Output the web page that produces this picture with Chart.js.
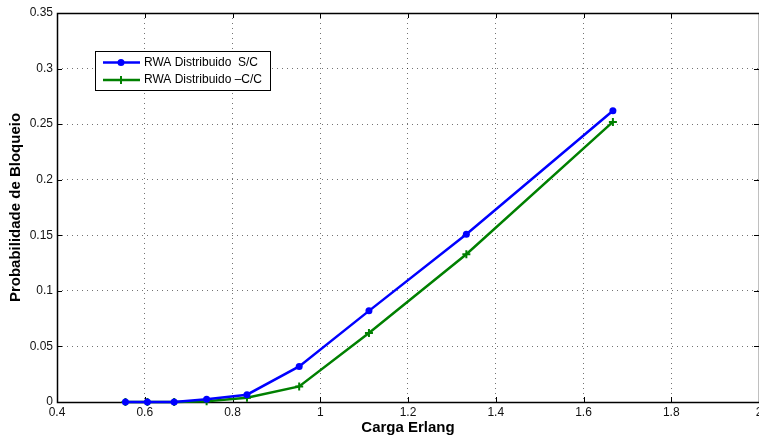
<!DOCTYPE html>
<html>
<head>
<meta charset="utf-8">
<script src="https://cdn.jsdelivr.net/npm/chart.js@4/dist/chart.umd.min.js"></script>
<style>
    html, body { margin: 0; padding: 0; background: #fff; }
    canvas { display: block; }
</style>
</head>
<body>
<canvas id="chart" width="759" height="441"></canvas>
<script>
// values
const cargaErlang = [0.556, 0.606, 0.667, 0.741, 0.833, 0.952, 1.111, 1.333, 1.667];
const bloqueioSC = [0, 0, 0, 0.0024, 0.0066, 0.032, 0.082, 0.151, 0.262];
const bloqueioCC = [0, 0, 0, 0.0006, 0.0038, 0.014, 0.062, 0.133, 0.252];
const xTicks = [0.4, 0.6, 0.8, 1, 1.2, 1.4, 1.6, 1.8, 2];
const yTicks = [0, 0.05, 0.1, 0.15, 0.2, 0.25, 0.3, 0.35];
const seriesNames = ["RWA Distribuido  S/C", "RWA Distribuido \u2013C/C"];

const FONT = "'Liberation Sans', Arial, Helvetica, sans-serif";

(function () {

    function toPoints(xs, ys) {
        return xs.map((x, i) => ({ x: x, y: ys[i] }));
    }

    function fmt(v) {
        return String(Number(v.toFixed(2)));
    }

    // MATLAB style box with inward ticks
    const framePlugin = {
        id: "frame",
        beforeDatasetsDraw(chart) {
            const { ctx, chartArea: a, scales } = chart;
            ctx.save();
            ctx.strokeStyle = "#000";
            ctx.lineWidth = 1;
            ctx.beginPath();
            xTicks.forEach(v => {
                const px = Math.round(scales.x.getPixelForValue(v)) + 0.5;
                ctx.moveTo(px, a.bottom);
                ctx.lineTo(px, a.bottom - 5);
                ctx.moveTo(px, a.top);
                ctx.lineTo(px, a.top + 5);
            });
            yTicks.forEach(v => {
                const py = Math.round(scales.y.getPixelForValue(v)) + 0.5;
                ctx.moveTo(a.left, py);
                ctx.lineTo(a.left + 5, py);
                ctx.moveTo(a.right, py);
                ctx.lineTo(a.right - 5, py);
            });
            ctx.stroke();
            ctx.lineWidth = 1.5;
            ctx.strokeRect(Math.round(a.left) + 0.5, Math.round(a.top) + 0.5,
                Math.round(a.right - a.left), Math.round(a.bottom - a.top));
            ctx.restore();
        }
    };

    const legendPlugin = {
        id: "boxLegend",
        afterDraw(chart) {
            const ctx = chart.ctx;
            const box = { x: 95, y: 51, w: 175, h: 39 };
            ctx.save();
            ctx.fillStyle = "#fff";
            ctx.fillRect(box.x, box.y, box.w, box.h);
            ctx.strokeStyle = "#000";
            ctx.lineWidth = 1;
            ctx.strokeRect(box.x + 0.5, box.y + 0.5, box.w, box.h);
            chart.data.datasets.forEach((ds, i) => {
                const y = 62.5 + i * 17.5;
                ctx.strokeStyle = ds.borderColor;
                ctx.lineWidth = 2.5;
                ctx.beginPath();
                ctx.moveTo(103, y);
                ctx.lineTo(140, y);
                ctx.stroke();
                ctx.fillStyle = ds.borderColor;
                if (ds.pointStyle === "circle") {
                    ctx.beginPath();
                    ctx.arc(121, y, 3.5, 0, Math.PI * 2);
                    ctx.fill();
                } else {
                    ctx.lineWidth = 2;
                    ctx.beginPath();
                    ctx.moveTo(117, y);
                    ctx.lineTo(125, y);
                    ctx.moveTo(121, y - 4);
                    ctx.lineTo(121, y + 4);
                    ctx.stroke();
                }
                ctx.fillStyle = "#000";
                ctx.font = "12px " + FONT;
                ctx.textBaseline = "middle";
                ctx.textAlign = "left";
                ctx.fillText(ds.label, 144, y);
            });
            ctx.restore();
        }
    };

    new Chart(document.getElementById("chart"), {
        type: "line",
        data: {
            datasets: [{
                label: seriesNames[0],
                data: toPoints(cargaErlang, bloqueioSC),
                borderColor: "#0000ff",
                backgroundColor: "#0000ff",
                borderWidth: 2.5,
                pointStyle: "circle",
                pointRadius: 3.5,
                pointBorderWidth: 0,
                tension: 0,
                clip: false
            }, {
                label: seriesNames[1],
                data: toPoints(cargaErlang, bloqueioCC),
                borderColor: "#008000",
                backgroundColor: "#008000",
                borderWidth: 2.5,
                pointStyle: "cross",
                pointRadius: 4,
                pointBorderWidth: 2,
                tension: 0,
                clip: false
            }]
        },
        options: {
            responsive: false,
            animation: false,
            layout: { autoPadding: false, padding: { top: 13, right: 0, left: 0, bottom: 0 } },
            plugins: {
                legend: { display: false },
                tooltip: { enabled: false }
            },
            scales: {
                x: {
                    type: "linear",
                    min: 0.4,
                    max: 2,
                    afterBuildTicks: s => { s.ticks = xTicks.map(v => ({ value: v })); },
                    afterFit: s => { s.height = 39; s.paddingLeft = 0; s.paddingRight = 0; },
                    grid: { color: "rgba(0,0,0,0.55)", drawTicks: false, lineWidth: 1 },
                    border: { display: false, dash: [1, 4] },
                    ticks: {
                        padding: 3,
                        color: "#111",
                        font: { family: FONT, size: 12 },
                        maxRotation: 0,
                        autoSkip: false,
                        callback: v => fmt(v)
                    },
                    title: {
                        display: true,
                        text: "Carga Erlang",
                        color: "#000",
                        font: { family: FONT, size: 15, weight: "bold" },
                        padding: { top: 0, bottom: 4 }
                    }
                },
                y: {
                    type: "linear",
                    min: 0,
                    max: 0.35,
                    afterBuildTicks: s => { s.ticks = yTicks.map(v => ({ value: v })); },
                    afterFit: s => { s.width = 57; s.paddingTop = 0; s.paddingBottom = 0; },
                    grid: { color: "rgba(0,0,0,0.55)", drawTicks: false, lineWidth: 1 },
                    border: { display: false, dash: [1, 4] },
                    ticks: {
                        padding: 4,
                        color: "#111",
                        font: { family: FONT, size: 12 },
                        autoSkip: false,
                        callback: v => fmt(v)
                    },
                    title: {
                        display: true,
                        text: "Probabilidade de Bloqueio",
                        color: "#000",
                        font: { family: FONT, size: 15, weight: "bold" },
                        padding: { top: 7, bottom: 0 }
                    }
                }
            }
        },
        plugins: [framePlugin, legendPlugin]
    });
})();
</script>
</body>
</html>
